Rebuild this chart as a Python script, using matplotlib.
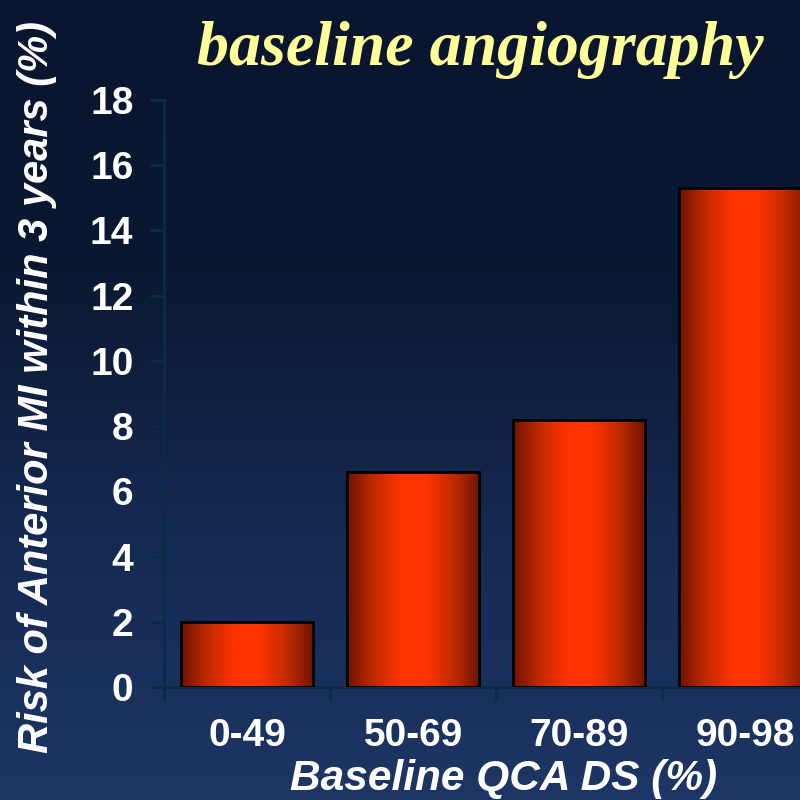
import numpy as np
import matplotlib
matplotlib.use("Agg")
import matplotlib.pyplot as plt
from matplotlib.colors import LinearSegmentedColormap

categories = ["0-49", "50-69", "70-89", "90-98"]
risk = [2.0, 6.6, 8.2, 15.3]
yticks = [0, 2, 4, 6, 8, 10, 12, 14, 16, 18]

sans = "Liberation Sans"
serif = "Liberation Serif"

fig = plt.figure(figsize=(8, 8), dpi=100)

# slide background, dark navy fading to blue at the bottom
bg = fig.add_axes([0, 0, 1, 1], zorder=0)
bg_cmap = LinearSegmentedColormap.from_list("bg", ["#1e3665", "#152a52", "#0b1830", "#0a1630"])
bg.imshow(np.linspace(0, 1, 256).reshape(-1, 1), aspect="auto", cmap=bg_cmap,
          extent=[0, 1, 0, 1], origin="lower")
bg.set_axis_off()

ax = fig.add_axes([0.205, 0.141, 0.83, 0.734], zorder=1)
ax.patch.set_alpha(0)

x = np.arange(len(categories))
bars = ax.bar(x, risk, width=0.8, facecolor="none", edgecolor="black", linewidth=2, zorder=3)

# cylinder-like shading across each bar
bar_cmap = LinearSegmentedColormap.from_list(
    "bar", ["#6e1400", "#c02a00", "#ff3300", "#ff3300", "#c02a00", "#6e1400"])
grad = np.linspace(0, 1, 256).reshape(1, -1)
for b in bars:
    im = ax.imshow(grad, aspect="auto", cmap=bar_cmap, zorder=2,
                   extent=[b.get_x(), b.get_x() + b.get_width(), 0, b.get_height()])
    im.set_clip_path(b)

ax.set_xlim(-0.5, 3.5)
ax.set_ylim(0, 18)

axis_col = "#0c2b47"
for side in ["top", "right"]:
    ax.spines[side].set_visible(False)
for side in ["left", "bottom"]:
    ax.spines[side].set_color(axis_col)
    ax.spines[side].set_linewidth(2)
ax.spines["bottom"].set_bounds(-0.566, 3.5)

ax.set_yticks(yticks)
ax.set_yticklabels([str(t) for t in yticks])
ax.tick_params(axis="y", length=10, width=2, color=axis_col, pad=12,
               labelcolor="white", labelsize=28)
for lab in ax.get_yticklabels():
    lab.set_fontfamily(sans)
    lab.set_fontweight("bold")

ax.set_xticks(np.arange(-0.5, 4, 1))
ax.set_xticklabels([])
ax.tick_params(axis="x", which="major", length=10, width=2, color=axis_col)
ax.set_xticks(x, minor=True)
ax.set_xticklabels(categories, minor=True)
ax.tick_params(axis="x", which="minor", length=0, pad=22, labelcolor="white", labelsize=28)
for lab in ax.get_xticklabels(minor=True):
    lab.set_fontfamily(sans)
    lab.set_fontweight("bold")

fig.text(0.629, 0.026, "Baseline QCA DS (%)", ha="center", va="center", color="white",
         fontsize=30.5, fontweight="bold", fontstyle="italic", family=sans)
fig.text(0.046, 0.516, "Risk of Anterior MI within 3 years (%)", rotation=90,
         ha="center", va="center", color="white", fontsize=30, fontweight="bold",
         fontstyle="italic", family=sans)
fig.text(0.6, 0.937, "baseline angiography", ha="center", va="center", color="#ffff99",
         fontsize=46, fontweight="bold", fontstyle="italic", family=serif)

fig.savefig("out.png", dpi=100)
